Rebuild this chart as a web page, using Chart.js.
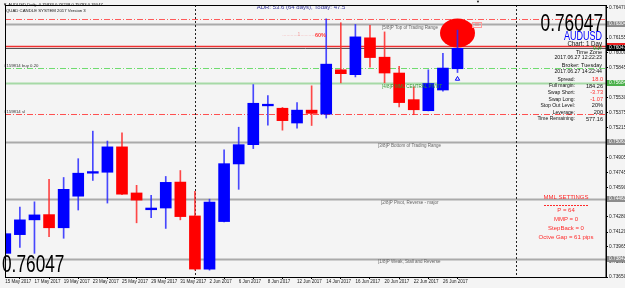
<!DOCTYPE html>
<html>
<head>
<meta charset="utf-8">
<script src="https://cdn.jsdelivr.net/npm/chart.js@4.4.1/dist/chart.umd.min.js"></script>
<style>
  html, body { margin: 0; padding: 0; background: #f4f4f4; }
  #wrap { width: 625px; height: 288px; position: relative; }
</style>
</head>
<body>
<div id="wrap"><canvas id="audusdChart"></canvas></div>
<script>
// AUDUSD daily candles, 15 May - 27 Jun 2017
const dates = ['15 May', '16 May', '17 May', '18 May', '19 May', '22 May', '23 May', '24 May', '25 May', '26 May',
  '29 May', '30 May', '31 May', '1 Jun', '2 Jun', '5 Jun', '6 Jun', '7 Jun', '8 Jun', '9 Jun',
  '12 Jun', '13 Jun', '14 Jun', '15 Jun', '16 Jun', '19 Jun', '20 Jun', '21 Jun', '22 Jun', '23 Jun',
  '26 Jun', '27 Jun'];
const openPrices = [0.73898, 0.74094, 0.74249, 0.74304, 0.74166, 0.74497, 0.74738, 0.74748, 0.75014, 0.74531,
  0.74355, 0.74373, 0.74645, 0.74290, 0.73733, 0.74231, 0.74835, 0.75037, 0.75444, 0.75419,
  0.75264, 0.75399, 0.75357, 0.75822, 0.75771, 0.76157, 0.75954, 0.75788, 0.75509, 0.75393,
  0.75610, 0.75833];
const highPrices = [0.74140, 0.74383, 0.74438, 0.74673, 0.74693, 0.74890, 0.75179, 0.75075, 0.75161, 0.74611,
  0.74507, 0.74704, 0.74766, 0.74549, 0.74466, 0.74982, 0.75220, 0.75667, 0.75551, 0.75427,
  0.75478, 0.75654, 0.76356, 0.76315, 0.76297, 0.76287, 0.76219, 0.75857, 0.75644, 0.75822,
  0.75995, 0.76238];
const lowPrices = [0.73857, 0.73960, 0.73898, 0.74073, 0.74056, 0.74352, 0.74662, 0.74425, 0.74513, 0.74218,
  0.74273, 0.74159, 0.74249, 0.73722, 0.73722, 0.74228, 0.74569, 0.74996, 0.75241, 0.75189,
  0.75210, 0.75238, 0.75316, 0.75685, 0.75747, 0.75850, 0.75685, 0.75434, 0.75351, 0.75391,
  0.75599, 0.75793];
const closePrices = [0.74104, 0.74249, 0.74301, 0.74166, 0.74569, 0.74738, 0.74755, 0.75014, 0.74518, 0.74456,
  0.74373, 0.74642, 0.74283, 0.73733, 0.74435, 0.74838, 0.75037, 0.75471, 0.75461, 0.75289,
  0.75399, 0.75365, 0.75881, 0.75781, 0.76167, 0.75950, 0.75788, 0.75478, 0.75403, 0.75678,
  0.75840, 0.76047];

// axis ticks
const xTickIdx = [0, 2, 4, 6, 8, 10, 12, 14, 16, 18, 20, 22, 24, 26, 28, 30];
const xTickLabels = ['15 May 2017', '17 May 2017', '19 May 2017', '23 May 2017', '25 May 2017', '29 May 2017',
  '31 May 2017', '2 Jun 2017', '6 Jun 2017', '8 Jun 2017', '12 Jun 2017', '14 Jun 2017', '16 Jun 2017',
  '20 Jun 2017', '22 Jun 2017', '26 Jun 2017'];
const yTickValues = [0.76470, 0.76155, 0.76000, 0.75845, 0.75530, 0.75375, 0.75215, 0.74905, 0.74745,
  0.74590, 0.74280, 0.74120, 0.73965, 0.73810, 0.73650];

// Murrey math levels
const mmlLevels = [0.76304, 0.75684, 0.75063, 0.74463, 0.73842];
const mmlNames = ['[5/8]P Top of Trading Range', '[4/8]P MML CENTRAL PIVOT', '[3/8]P Bottom of Trading Range',
  '[2/8]P Pivot, Reverse - major', '[1/8]P Weak, Stall and Reverse'];

// other price lines
const adrHigh = 0.76359;
const askPrice = 0.76075;
const lastPrice = 0.76047;
const buyPrice = 0.75845;
const slPrice = 0.75358;
const separatorIdx = [13, 35];
const signalIdx = 31;
const signalPrice = 0.75726;
const circleIdx = 31;
const circlePrice = 0.76207;

// right axis boxed labels
const boxLevels = [0.76304, 0.76075, 0.76047, 0.75684, 0.75063, 0.74463, 0.73842];

// info panel
const infoLabels = ['Spread:', 'Full margin:', 'Swap Short:', 'Swap Long:', 'Stop Out Level:', 'Leverage:', 'Time Remaining:'];
const infoValues = ['18.0', '184.26', '-3.73', '-1.07', '20%', '200', '577.16'];
const mmlSettings = ['MML SETTINGS', 'P = 64', 'MMP = 0', 'StepBack = 0', 'Octve Gap = 61 pips'];

const BLUE = '#0000ff';
const RED = '#ff0000';
const FONT = '"Liberation Sans", Arial, sans-serif';

function txt(ctx, s, x, y, size, color, align, sx, weight) {
  ctx.save();
  ctx.translate(x, y);
  ctx.scale(sx || 1, 1);
  ctx.font = (weight || '') + ' ' + size + 'px ' + FONT;
  ctx.fillStyle = color;
  ctx.textAlign = align || 'left';
  ctx.textBaseline = 'middle';
  ctx.fillText(s, 0, 0);
  ctx.restore();
}

function hline(ctx, area, y, color, width, dash) {
  ctx.save();
  ctx.strokeStyle = color;
  ctx.lineWidth = width;
  ctx.setLineDash(dash || []);
  ctx.beginPath();
  ctx.moveTo(area.left, Math.round(y) + 0.5);
  ctx.lineTo(area.right, Math.round(y) + 0.5);
  ctx.stroke();
  ctx.restore();
}

const bull = closePrices.map((c, i) => c >= openPrices[i]);

const mtPlugin = {
  id: 'mtPlugin',
  beforeDraw(chart) {
    const ctx = chart.ctx;
    ctx.save();
    ctx.fillStyle = '#f4f4f4';
    ctx.fillRect(0, 0, chart.width, chart.height);
    ctx.restore();
  },
  beforeDatasetsDraw(chart) {
    const ctx = chart.ctx, a = chart.chartArea;
    const xs = chart.scales.x, ys = chart.scales.y;
    ctx.save();
    ctx.beginPath();
    ctx.rect(a.left, a.top, a.right - a.left, a.bottom - a.top);
    ctx.clip();

    // MML levels
    mmlLevels.forEach((v, k) => {
      hline(ctx, a, ys.getPixelForValue(v), k === 1 ? '#a6d9a6' : '#aaaaaa', 2);
    });
    hline(ctx, a, ys.getPixelForValue(adrHigh), '#ff5a5a', 1, [6, 2, 1, 2]);
    hline(ctx, a, ys.getPixelForValue(askPrice), '#ee3030', 1.5);
    hline(ctx, a, ys.getPixelForValue(lastPrice), '#555555', 1);
    hline(ctx, a, ys.getPixelForValue(buyPrice), '#6fdc6f', 1, [6, 2, 1, 2]);
    hline(ctx, a, ys.getPixelForValue(slPrice), '#ff5050', 1, [6, 2, 1, 2]);

    // period separators
    ctx.strokeStyle = '#222';
    ctx.lineWidth = 1;
    ctx.setLineDash([2, 2]);
    separatorIdx.forEach(i => {
      const x = Math.round(xs.getPixelForValue(i)) + 0.5;
      ctx.beginPath();
      ctx.moveTo(x, a.top);
      ctx.lineTo(x, a.bottom);
      ctx.stroke();
    });
    ctx.setLineDash([]);

    // red circle marker
    ctx.fillStyle = '#ff0000';
    ctx.beginPath();
    ctx.ellipse(xs.getPixelForValue(circleIdx), ys.getPixelForValue(circlePrice), 17.5, 14.5, 0, 0, Math.PI * 2);
    ctx.fill();
    ctx.restore();
  },
  afterDatasetsDraw(chart) {
    const ctx = chart.ctx, a = chart.chartArea;
    const ys = chart.scales.y;

    // titles
    txt(ctx, '\u25BC AUDUSD,Daily  0.75833 0.76238 0.75793 0.76047', 3, 5, 4.2, '#111');
    txt(ctx, 'QUAD CANDLE SYSTEM 2017 Version 3', 6, 10.5, 4.3, '#111');
    txt(ctx, 'ADR: 53.6 (64 days), Today: 47.5', 301, 7, 6, '#333399', 'center');
    txt(ctx, '...........1...........', 299, 35, 5, '#f2a0a0', 'center');
    txt(ctx, '60%', 315, 35, 5.5, '#ff3a3a', 'left', 1, 'bold');
    txt(ctx, '\u25BC', 478, 2, 4, '#000', 'center');

    // MML labels
    const mmlX = [382, 382, 378, 381, 378];
    mmlLevels.forEach((v, k) => {
      const y = ys.getPixelForValue(v);
      txt(ctx, mmlNames[k], mmlX[k], y + 3.5, 4.5, k === 1 ? '#2f9a2f' : '#666', 'left');
    });
    ctx.save();
    ctx.strokeStyle = '#ff9a9a';
    ctx.strokeRect(472.5, 22.5, 9, 5);
    ctx.restore();
    txt(ctx, 'xx', 477, 25, 4.5, '#ff7070', 'center');

    // order labels
    txt(ctx, '#159814 buy 0.20', 4, ys.getPixelForValue(buyPrice) - 2, 4.3, '#333');
    txt(ctx, '#159814 sl', 4, ys.getPixelForValue(slPrice) - 2, 4.3, '#333');

    // info panel
    txt(ctx, lastPrice.toFixed(5), 603, 24, 24, '#000', 'right', 0.72);
    txt(ctx, 'AUDUSD', 602, 36.5, 12, BLUE, 'right', 0.75);
    txt(ctx, 'Chart: 1 Day', 602, 44, 7, '#111', 'right', 0.88);
    txt(ctx, '9:17', 602, 48.5, 4.5, '#22aa22', 'right');
    txt(ctx, 'Time Zone', 602, 52.5, 5.5, '#111', 'right');
    txt(ctx, '2017.06.27 12:22:23', 602, 58, 5.2, '#111', 'right');
    txt(ctx, 'Broker: Tuesday', 602, 65, 5.5, '#111', 'right');
    txt(ctx, '2017.06.27 14:22:44', 602, 72, 5.2, '#111', 'right');
    infoLabels.forEach((s, k) => {
      const y = 79.5 + k * 6.6;
      txt(ctx, s, 575, y, 5, '#111', 'right');
      const red = k === 0 || k === 2 || k === 3;
      txt(ctx, infoValues[k], 603, y, 5.6, red ? '#ff2a2a' : '#111', 'right');
    });

    // MML settings
    mmlSettings.forEach((s, k) => {
      const y = k === 0 ? 197.5 : 201.5 + k * 9;
      txt(ctx, s, 566, y, 6, '#ff2a2a', 'center');
    });
    ctx.save();
    ctx.strokeStyle = '#ff2a2a';
    ctx.setLineDash([2, 1]);
    ctx.beginPath();
    ctx.moveTo(544, 205.5);
    ctx.lineTo(588, 205.5);
    ctx.stroke();
    ctx.restore();

    // big bottom-left price
    txt(ctx, lastPrice.toFixed(5), 2, 265, 24, '#000', 'left', 0.72);
  },
  afterDraw(chart) {
    const ctx = chart.ctx, a = chart.chartArea;
    const ys = chart.scales.y;
    // frame
    ctx.save();
    ctx.strokeStyle = '#000';
    ctx.lineWidth = 1;
    ctx.strokeRect(a.left + 0.5, a.top + 0.5, a.right - a.left - 0.5, a.bottom - a.top);
    ctx.restore();

    // boxed price labels on the right axis
    const boxStyle = [
      ['#8c8c8c', '#fff'], ['#ee2020', '#fff'], ['#000000', '#fff'], ['#4cb04c', '#fff'],
      ['#8c8c8c', '#fff'], ['#8c8c8c', '#fff'], ['#8c8c8c', '#fff']
    ];
    boxLevels.forEach((v, k) => {
      const y = ys.getPixelForValue(v);
      ctx.save();
      ctx.fillStyle = boxStyle[k][0];
      ctx.fillRect(a.right + 1, Math.round(y) - 3, chart.width - a.right - 1, 6);
      ctx.restore();
      if (k !== 1) txt(ctx, v.toFixed(5), a.right + 3, Math.round(y), 4.8, boxStyle[k][1]);
    });
  }
};

const ctx = document.getElementById('audusdChart').getContext('2d');
new Chart(ctx, {
  type: 'bar',
  data: {
    datasets: [
      {
        label: 'body',
        data: dates.map((d, i) => ({ x: i, y: [openPrices[i], closePrices[i]] })),
        backgroundColor: bull.map(b => b ? BLUE : RED),
        borderWidth: 0,
        barThickness: 11,
        minBarLength: 1.5,
        grouped: false,
        order: 2
      },
      {
        label: 'wick',
        data: dates.map((d, i) => ({ x: i, y: [lowPrices[i], highPrices[i]] })),
        backgroundColor: bull.map(b => b ? 'rgba(40,40,255,0.85)' : 'rgba(255,40,40,0.85)'),
        borderWidth: 0,
        barThickness: 1,
        grouped: false,
        order: 3
      },
      {
        type: 'scatter',
        label: 'signal',
        data: [{ x: signalIdx, y: signalPrice }],
        pointStyle: 'triangle',
        radius: 2.5,
        borderColor: BLUE,
        backgroundColor: 'rgba(0,0,0,0)',
        borderWidth: 1,
        order: 1
      }
    ]
  },
  options: {
    responsive: true,
    maintainAspectRatio: false,
    animation: false,
    devicePixelRatio: 1,
    layout: { padding: { left: 1, top: 1, right: 0, bottom: 0 } },
    plugins: { legend: { display: false }, tooltip: { enabled: false } },
    scales: {
      x: {
        type: 'linear',
        position: 'bottom',
        min: -0.02,
        max: 41.18,
        offset: false,
        grid: { drawOnChartArea: false, drawTicks: true, tickLength: 2, color: '#000' },
        border: { display: true, color: '#000' },
        ticks: {
          font: { size: 4.5, family: FONT },
          color: '#222',
          align: 'start',
          padding: 0,
          maxRotation: 0,
          autoSkip: false,
          callback: function(value) {
            const k = xTickIdx.indexOf(value);
            return k >= 0 ? xTickLabels[k] : '';
          }
        },
        afterBuildTicks: function(scale) {
          scale.ticks = xTickIdx.map(v => ({ value: v }));
        },
        afterFit: function(scale) {
          scale.height = 11;
          scale.paddingLeft = 0;
          scale.paddingRight = 0;
        }
      },
      y: {
        type: 'linear',
        position: 'right',
        min: 0.73650,
        max: 0.76501,
        grid: { drawOnChartArea: false, drawTicks: true, tickLength: 2, color: '#000' },
        border: { display: true, color: '#000' },
        ticks: {
          font: { size: 4.8, family: FONT },
          color: '#222',
          padding: 1,
          crossAlign: 'near',
          autoSkip: false,
          callback: function(value) { return Number(value).toFixed(5); }
        },
        afterBuildTicks: function(scale) {
          scale.ticks = yTickValues.map(v => ({ value: v }));
        },
        afterFit: function(scale) {
          scale.width = 19;
          scale.paddingTop = 0;
          scale.paddingBottom = 0;
        }
      }
    }
  },
  plugins: [mtPlugin]
});
</script>
</body>
</html>
